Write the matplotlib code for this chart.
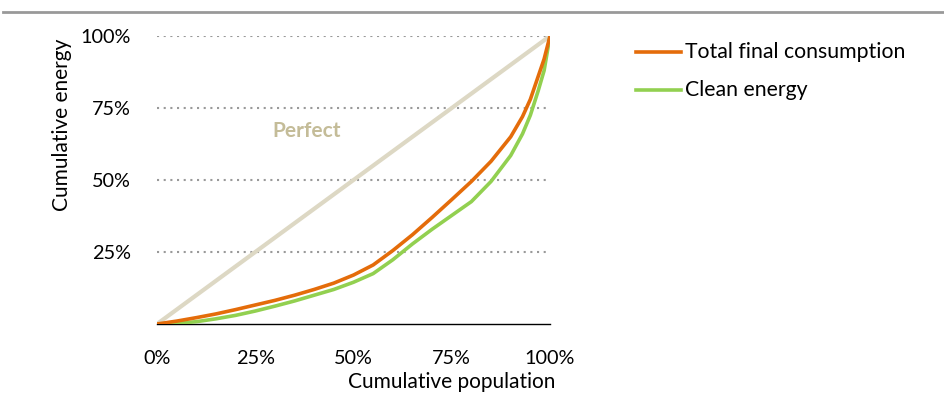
import matplotlib
matplotlib.use("Agg")
import matplotlib.pyplot as plt
from matplotlib.lines import Line2D

plt.rcParams['font.family'] = ['Lato', 'DejaVu Sans']

pop = [0, 5, 10, 15, 20, 25, 30, 35, 40, 45, 50, 55, 60, 65, 70, 75, 80, 85, 90, 93, 95, 97, 98.5, 100]
tfc = [0, 1, 2.2, 3.5, 5, 6.6, 8.2, 10, 12, 14.2, 17, 20.5, 25.5, 31, 37, 43.2, 49.5, 56.5, 65, 72, 78, 86, 92, 100]
clean = [0, 0.2, 0.8, 1.8, 3, 4.5, 6.2, 8, 10, 12, 14.5, 17.5, 22.3, 27.8, 32.9, 37.7, 42.5, 49.5, 58.5, 66, 72.5, 81, 88, 100]
perfect_x = [0, 100]
perfect_y = [0, 100]
yticks = [25, 50, 75, 100]
ytick_labels = ['25%', '50%', '75%', '100%']
xticks = [0, 25, 50, 75, 100]
xtick_labels = ['0%', '25%', '50%', '75%', '100%']

W, H = 945, 395
fig = plt.figure(figsize=(W/100, H/100), dpi=100)
ax = fig.add_axes([157/W, 1-324/H, (550-157)/W, (324-36)/H])
ax.set_xlim(0, 100)
ax.set_ylim(0, 100)

for y in yticks:
    ax.axhline(y, color='#999999', lw=1.5, ls=(0, (1, 2.2)), zorder=1)

ax.plot(perfect_x, perfect_y, color='#ddd8c4', lw=3, zorder=2, solid_capstyle='butt')
ax.plot(pop, tfc, color='#e46c0a', lw=2.6, zorder=4, solid_joinstyle='round')
ax.plot(pop, clean, color='#92d050', lw=2.6, zorder=3, solid_joinstyle='round')
ax.text(38, 67, 'Perfect', color='#c4bc98', fontsize=15, fontweight='bold', ha='center', va='center')

for s in ['left', 'right', 'top']:
    ax.spines[s].set_visible(False)
ax.spines['bottom'].set_color('black')
ax.spines['bottom'].set_linewidth(1)
ax.set_yticks(yticks)
ax.set_yticklabels(ytick_labels)
ax.set_xticks(xticks)
ax.set_xticklabels(xtick_labels)
ax.tick_params(axis='y', length=0, pad=19, labelsize=14.3)
ax.tick_params(axis='x', length=0, pad=19, labelsize=14.3)

fig.text(62/W, 1-125/H, 'Cumulative energy', rotation=90, ha='center', va='center', fontsize=15)
fig.text(452/W, 1-382/H, 'Cumulative population', ha='center', va='center', fontsize=15)

# legend
fig.add_artist(Line2D([636/W, 681/W], [1-52/H, 1-52/H], color='#e46c0a', lw=2.6))
fig.add_artist(Line2D([636/W, 681/W], [1-90/H, 1-90/H], color='#92d050', lw=2.6))
fig.text(685/W, 1-52/H, 'Total final consumption', ha='left', va='center', fontsize=15.3)
fig.text(685/W, 1-90/H, 'Clean energy', ha='left', va='center', fontsize=15.3)

# top rule
fig.add_artist(Line2D([3/W, 1.0], [1-12/H, 1-12/H], color='#999999', lw=2))

fig.savefig('out.png', dpi=100)
